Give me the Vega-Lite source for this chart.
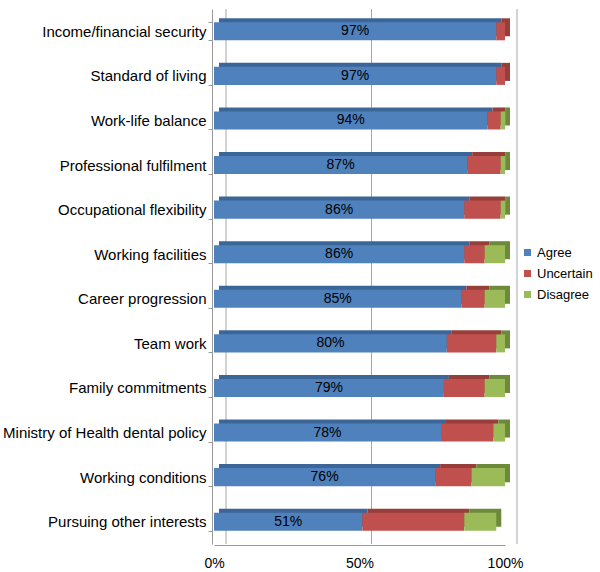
{
  "$schema": "https://vega.github.io/schema/vega-lite/v6.json",
  "width": 291,
  "height": 535,
  "autosize": {"type": "none"},
  "padding": {"left": 214, "top": 9, "right": 95, "bottom": 28},
  "background": "white",
  "config": {
    "font": "Liberation Sans",
    "view": {"stroke": null}
  },
  "datasets": {
    "survey": [
      {"item": "Income/financial security", "response": "Agree", "ord": 1, "value": 0.97},
      {"item": "Income/financial security", "response": "Uncertain", "ord": 2, "value": 0.03},
      {"item": "Income/financial security", "response": "Disagree", "ord": 3, "value": 0.0},
      {"item": "Standard of living", "response": "Agree", "ord": 1, "value": 0.97},
      {"item": "Standard of living", "response": "Uncertain", "ord": 2, "value": 0.03},
      {"item": "Standard of living", "response": "Disagree", "ord": 3, "value": 0.0},
      {"item": "Work-life balance", "response": "Agree", "ord": 1, "value": 0.94},
      {"item": "Work-life balance", "response": "Uncertain", "ord": 2, "value": 0.045},
      {"item": "Work-life balance", "response": "Disagree", "ord": 3, "value": 0.015},
      {"item": "Professional fulfilment", "response": "Agree", "ord": 1, "value": 0.87},
      {"item": "Professional fulfilment", "response": "Uncertain", "ord": 2, "value": 0.115},
      {"item": "Professional fulfilment", "response": "Disagree", "ord": 3, "value": 0.015},
      {"item": "Occupational flexibility", "response": "Agree", "ord": 1, "value": 0.86},
      {"item": "Occupational flexibility", "response": "Uncertain", "ord": 2, "value": 0.125},
      {"item": "Occupational flexibility", "response": "Disagree", "ord": 3, "value": 0.015},
      {"item": "Working facilities", "response": "Agree", "ord": 1, "value": 0.86},
      {"item": "Working facilities", "response": "Uncertain", "ord": 2, "value": 0.07},
      {"item": "Working facilities", "response": "Disagree", "ord": 3, "value": 0.07},
      {"item": "Career progression", "response": "Agree", "ord": 1, "value": 0.85},
      {"item": "Career progression", "response": "Uncertain", "ord": 2, "value": 0.08},
      {"item": "Career progression", "response": "Disagree", "ord": 3, "value": 0.07},
      {"item": "Team work", "response": "Agree", "ord": 1, "value": 0.80},
      {"item": "Team work", "response": "Uncertain", "ord": 2, "value": 0.17},
      {"item": "Team work", "response": "Disagree", "ord": 3, "value": 0.03},
      {"item": "Family commitments", "response": "Agree", "ord": 1, "value": 0.79},
      {"item": "Family commitments", "response": "Uncertain", "ord": 2, "value": 0.14},
      {"item": "Family commitments", "response": "Disagree", "ord": 3, "value": 0.07},
      {"item": "Ministry of Health dental policy", "response": "Agree", "ord": 1, "value": 0.78},
      {"item": "Ministry of Health dental policy", "response": "Uncertain", "ord": 2, "value": 0.18},
      {"item": "Ministry of Health dental policy", "response": "Disagree", "ord": 3, "value": 0.04},
      {"item": "Working conditions", "response": "Agree", "ord": 1, "value": 0.76},
      {"item": "Working conditions", "response": "Uncertain", "ord": 2, "value": 0.125},
      {"item": "Working conditions", "response": "Disagree", "ord": 3, "value": 0.115},
      {"item": "Pursuing other interests", "response": "Agree", "ord": 1, "value": 0.51},
      {"item": "Pursuing other interests", "response": "Uncertain", "ord": 2, "value": 0.35},
      {"item": "Pursuing other interests", "response": "Disagree", "ord": 3, "value": 0.11}
    ],
    "wall": [{"g": 0}, {"g": 0.5}, {"g": 1}]
  },
  "layer": [
    {
      "data": {"name": "wall"},
      "mark": {"type": "rule", "color": "#a6a6a6", "strokeWidth": 1, "xOffset": 12},
      "encoding": {
        "x": {"field": "g", "type": "quantitative", "scale": {"domain": [0, 1]}}
      }
    },
    {
      "data": {"name": "survey"},
      "mark": {"type": "bar", "xOffset": 5, "yOffset": -4},
      "encoding": {
        "y": {
          "field": "item", "type": "nominal",
          "sort": ["Income/financial security", "Standard of living", "Work-life balance", "Professional fulfilment", "Occupational flexibility", "Working facilities", "Career progression", "Team work", "Family commitments", "Ministry of Health dental policy", "Working conditions", "Pursuing other interests"],
          "scale": {"paddingInner": 0.596, "paddingOuter": 0.298}
        },
        "x": {"field": "value", "type": "quantitative", "stack": "zero", "scale": {"domain": [0, 1]}},
        "order": {"field": "ord", "type": "quantitative"},
        "color": {
          "field": "response", "type": "nominal",
          "scale": {"domain": ["Agree", "Uncertain", "Disagree"], "range": ["#3c6698", "#973e3b", "#6c8a3a"]},
          "legend": null
        }
      }
    },
    {
      "data": {"name": "survey"},
      "mark": {"type": "bar"},
      "encoding": {
        "y": {
          "field": "item", "type": "nominal",
          "sort": ["Income/financial security", "Standard of living", "Work-life balance", "Professional fulfilment", "Occupational flexibility", "Working facilities", "Career progression", "Team work", "Family commitments", "Ministry of Health dental policy", "Working conditions", "Pursuing other interests"],
          "axis": {
            "title": null,
            "offset": 2,
            "domainColor": "#9a9a9a",
            "tickColor": "#9a9a9a",
            "tickBand": "extent",
            "tickSize": 4,
            "labelPadding": 2,
            "labelFontSize": 15,
            "labelColor": "#000000",
            "labelLimit": 300
          }
        },
        "x": {
          "field": "value", "type": "quantitative", "stack": "zero",
          "axis": {
            "title": null,
            "values": [0, 0.5, 1],
            "format": ".0%",
            "grid": false,
            "ticks": false,
            "offset": 1,
            "domainColor": "#9a9a9a",
            "labelPadding": 11,
            "labelFontSize": 14,
            "labelColor": "#000000",
            "labelFlush": false
          }
        },
        "order": {"field": "ord", "type": "quantitative"},
        "color": {
          "field": "response", "type": "nominal",
          "scale": {"domain": ["Agree", "Uncertain", "Disagree"], "range": ["#4f81bd", "#c0504d", "#9bbb59"]},
          "legend": {
            "title": null,
            "orient": "none",
            "legendX": 307,
            "legendY": 237,
            "symbolType": "square",
            "symbolSize": 50,
            "symbolStrokeWidth": 0,
            "labelFontSize": 13,
            "labelColor": "#000000",
            "rowPadding": 7,
            "labelOffset": 3
          }
        }
      }
    },
    {
      "data": {"name": "survey"},
      "transform": [{"filter": "datum.response === 'Agree'"}],
      "mark": {"type": "text", "fontSize": 14, "color": "#000000", "baseline": "middle", "align": "center"},
      "encoding": {
        "y": {
          "field": "item", "type": "nominal",
          "sort": ["Income/financial security", "Standard of living", "Work-life balance", "Professional fulfilment", "Occupational flexibility", "Working facilities", "Career progression", "Team work", "Family commitments", "Ministry of Health dental policy", "Working conditions", "Pursuing other interests"]
        },
        "x": {"field": "value", "type": "quantitative", "stack": "zero", "bandPosition": 0.5},
        "text": {"field": "value", "type": "quantitative", "format": ".0%"}
      }
    }
  ],
  "resolve": {"scale": {"color": "independent"}}
}
